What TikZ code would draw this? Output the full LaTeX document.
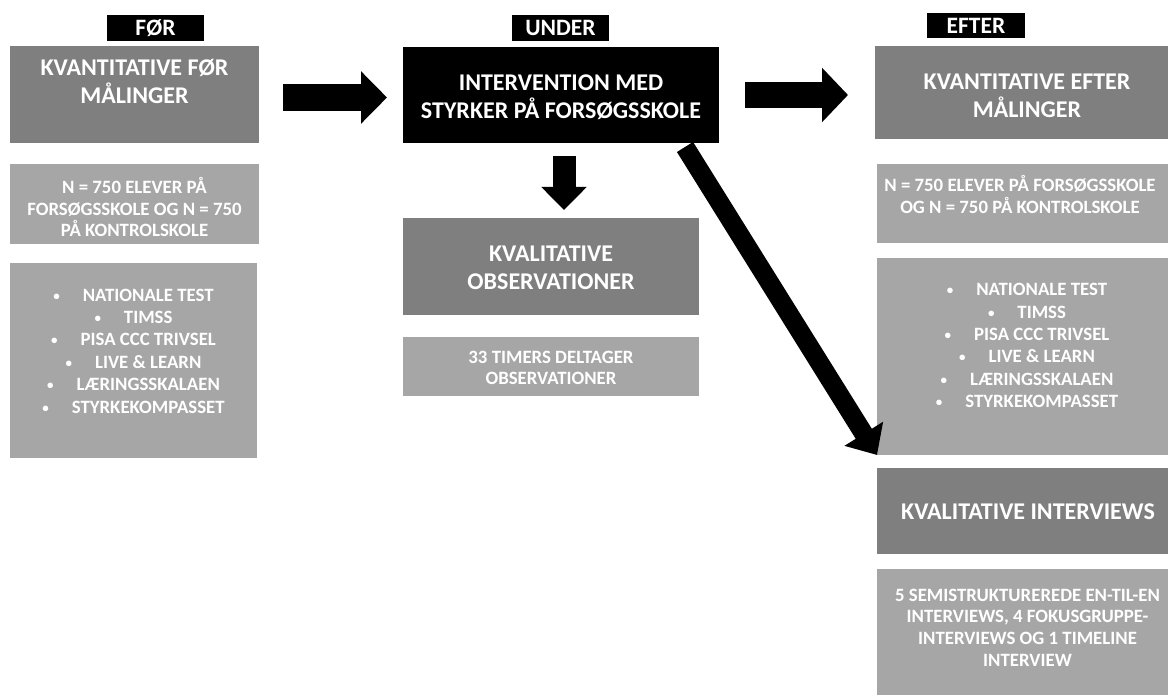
\documentclass[tikz,border=0pt]{standalone}
\usepackage{fontspec}
\setmainfont{Carlito}
\usetikzlibrary{arrows.meta}
\definecolor{dgrey}{RGB}{127,127,127}
\definecolor{lgrey}{RGB}{166,166,166}

\tikzset{
  base/.style={inner sep=0pt, outer sep=0pt, draw=none},
  darkbox/.style={base, fill=dgrey},
  lightbox/.style={base, fill=lgrey},
  blackbox/.style={base, fill=black},
  tagbox/.style={base, fill=black, text=white, font=\fontsize{23.5}{26}\selectfont\bfseries},
  title/.style={text=white, align=center, inner sep=0pt, font=\fontsize{24}{28}\selectfont\bfseries},
  small/.style={text=white, align=center, inner sep=0pt, font=\fontsize{18.8}{21.7}\selectfont\bfseries},
  listtext/.style={text=white, align=center, inner sep=0pt, font=\fontsize{18.8}{22.4}\selectfont\bfseries},
  blockarrow/.style n args={3}{line width=#1, -{Triangle[length=#3, width=#2]}},
}
\newcommand{\itm}[1]{{\fontsize{13}{13}\selectfont\raisebox{1pt}{\textbullet}}\hspace{23pt}#1}

\begin{document}
\begin{tikzpicture}[x=1pt, y=-1pt]
  \useasboundingbox (0,0) rectangle (1168,695);
  \clip (0,0) rectangle (1168,695);

  % phase tags
  \node[tagbox, minimum width=97pt, minimum height=26pt] (tagfor) at (155.5,28) {FØR};
  \node[tagbox, minimum width=97pt, minimum height=26pt] (tagunder) at (560.5,28) {UNDER};
  \node[tagbox, minimum width=98pt, minimum height=25pt] (tagefter) at (976,25.5) {EFTER};

  % FØR column
  \node[darkbox, minimum width=249pt, minimum height=97pt] (q1) at (134.5,94.5) {};
  \node[title] (q1t) at (134.5,81) {KVANTITATIVE FØR\\MÅLINGER};
  \node[lightbox, minimum width=249pt, minimum height=80pt] (q1n) at (134.5,204) {};
  \node[small] (q1nt) at (134.5,207) {N = 750 ELEVER PÅ\\FORSØGSSKOLE OG N = 750\\PÅ KONTROLSKOLE};
  \node[lightbox, minimum width=247pt, minimum height=195pt] (q1l) at (133.5,360.5) {};
  \node[listtext] (q1lt) at (133.5,351) {\itm{NATIONALE TEST}\\\itm{TIMSS}\\\itm{PISA CCC TRIVSEL}\\\itm{LIVE \& LEARN}\\\itm{LÆRINGSSKALAEN}\\\itm{STYRKEKOMPASSET}};

  % UNDER column
  \node[blackbox, minimum width=316pt, minimum height=96pt] (iv) at (561,95) {};
  \node[title] (ivt) at (561,97.5) {INTERVENTION MED\\STYRKER PÅ FORSØGSSKOLE};
  \node[darkbox, minimum width=296pt, minimum height=97pt] (obs) at (551,266.5) {};
  \node[title] (obst) at (551,267.5) {KVALITATIVE\\OBSERVATIONER};
  \node[lightbox, minimum width=296pt, minimum height=59pt] (obsn) at (551,366.5) {};
  \node[small] (obsnt) at (551,368) {33 TIMERS DELTAGER\\OBSERVATIONER};

  % EFTER column
  \node[darkbox, minimum width=305pt, minimum height=93pt] (q2) at (1027.5,92.5) {};
  \node[title] (q2t) at (1027,96) {KVANTITATIVE EFTER\\MÅLINGER};
  \node[lightbox, minimum width=303pt, minimum height=79pt] (q2n) at (1028.5,203.5) {};
  \node[small] (q2nt) at (1020,194.5) {N = 750 ELEVER PÅ FORSØGSSKOLE\\OG N = 750 PÅ KONTROLSKOLE};
  \node[lightbox, minimum width=303pt, minimum height=197pt] (q2l) at (1028.5,356.5) {};
  \node[listtext] (q2lt) at (1027,345.5) {\itm{NATIONALE TEST}\\\itm{TIMSS}\\\itm{PISA CCC TRIVSEL}\\\itm{LIVE \& LEARN}\\\itm{LÆRINGSSKALAEN}\\\itm{STYRKEKOMPASSET}};
  \node[darkbox, minimum width=303pt, minimum height=86pt] (int) at (1028.5,511) {};
  \node[title] (intt) at (1028,512) {KVALITATIVE INTERVIEWS};
  \node[lightbox, minimum width=303pt, minimum height=126pt] (intn) at (1028.5,632) {};
  \node[small] (intnt) at (1027.5,627.5) {5 SEMISTRUKTUREREDE EN-TIL-EN\\INTERVIEWS, 4 FOKUSGRUPPE-\\INTERVIEWS OG 1 TIMELINE\\INTERVIEW};

  % block arrows between phases
  \draw[blockarrow={27pt}{51pt}{26pt}] ([shift={(24pt,-3pt)}]q1.east) -- ([shift={(-16pt,-2.5pt)}]iv.west);
  \draw[blockarrow={26pt}{53pt}{26pt}] ([xshift=26pt]iv.east) -- ([xshift=-27pt]q2.west |- iv.east);
  \draw[blockarrow={23pt}{44pt}{23pt}] ([shift={(3pt,-13pt)}]iv.south) -- ([shift={(13pt,8pt)}]obs.north);
  \draw[blockarrow={19pt}{44pt}{25pt}] ([shift={(124pt,-4pt)}]iv.south) -- (q2l.south west);
\end{tikzpicture}
\end{document}
